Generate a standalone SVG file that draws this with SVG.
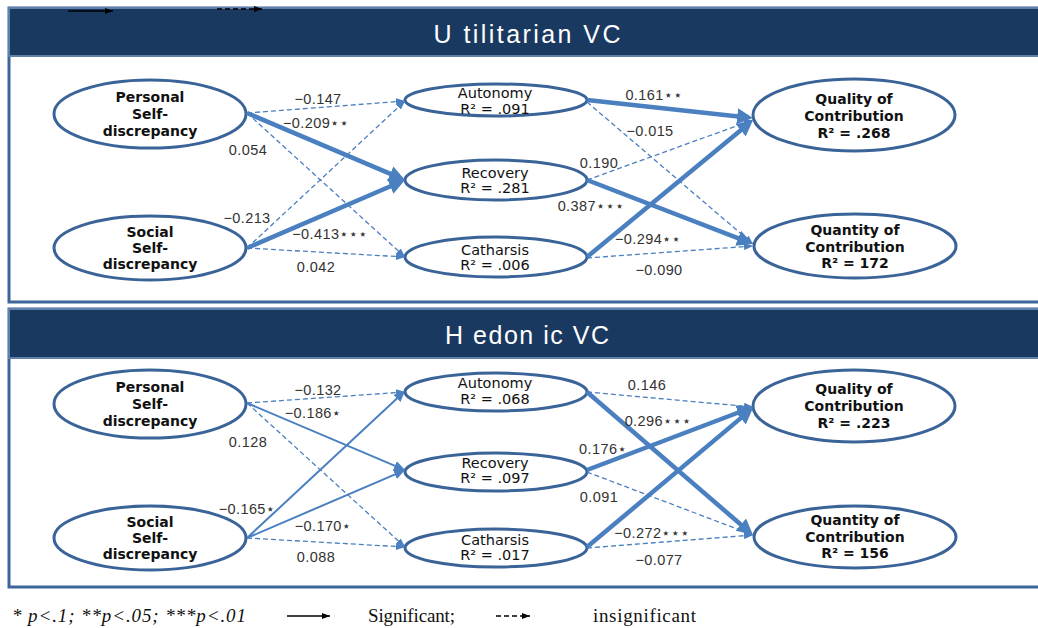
<svg xmlns="http://www.w3.org/2000/svg" width="1038" height="628" viewBox="0 0 1038 628">
<defs>
<style>
.panel{fill:#fff;stroke:#3d6599;stroke-width:3}
.hdr{fill:#1a3960;stroke:#5f80ab;stroke-width:2}
.title{font-family:"Liberation Sans",Arial,sans-serif;font-size:25px;fill:#fff;text-anchor:middle}
.ell{fill:#fff;stroke:#3a6398;stroke-width:3}
.nb{font-family:"DejaVu Sans",sans-serif;font-weight:bold;font-size:14px;fill:#111;text-anchor:middle}
.nr{font-family:"DejaVu Sans",sans-serif;font-size:14.5px;fill:#111;text-anchor:middle}
.lb{font-family:"Liberation Sans","DejaVu Sans",sans-serif;font-size:14.5px;letter-spacing:0.4px;fill:#333;text-anchor:middle}
.thick{fill:none;stroke:#4a7fc0;stroke-width:4.5;marker-end:url(#big)}
.mid{fill:none;stroke:#4a7fc0;stroke-width:2;marker-end:url(#med)}
.dash{fill:none;stroke:#4a7fc0;stroke-width:1.3;stroke-dasharray:5 3;marker-end:url(#sm)}
.leg{font-family:"Liberation Serif","Times New Roman",serif;font-size:19px;fill:#111}
.kl{stroke:#000;stroke-width:1.3;fill:none;marker-end:url(#blk)}
</style>
<marker id="big" markerUnits="userSpaceOnUse" markerWidth="16" markerHeight="16" refX="6" refY="8" orient="auto"><path d="M0,0 L16,8 L0,16 z" fill="#4a7fc0"/></marker>
<marker id="med" markerUnits="userSpaceOnUse" markerWidth="11" markerHeight="10" refX="4" refY="5" orient="auto"><path d="M0,0 L11,5 L0,10 z" fill="#4a7fc0"/></marker>
<marker id="sm" markerUnits="userSpaceOnUse" markerWidth="9" markerHeight="7" refX="9" refY="3.5" orient="auto"><path d="M0,0 L9,3.5 L0,7 z" fill="#4a7fc0"/></marker>
<marker id="blk" markerUnits="userSpaceOnUse" markerWidth="8" markerHeight="6" refX="8" refY="3" orient="auto"><path d="M0,0 L8,3 L0,6 z" fill="#000"/></marker>
</defs>

<g id="panel-utilitarian">
<rect class="panel" x="9" y="8" width="1040" height="294"/>
<rect class="hdr" x="9" y="8" width="1040" height="48"/>
<text class="title" x="527" y="43" textLength="187" lengthAdjust="spacing">U tilitarian VC</text>
</g>
<g id="panel-hedonic">
<rect class="panel" x="9" y="309" width="1040" height="278"/>
<rect class="hdr" x="9" y="309" width="1040" height="49"/>
<text class="title" x="527" y="344" textLength="164" lengthAdjust="spacing">H edon ic VC</text>
</g>

<g id="top-legend-arrows">
<line class="kl" x1="68" y1="11" x2="113" y2="11"/>
<line class="kl" x1="217" y1="9" x2="262" y2="9" stroke-dasharray="5 3"/>
</g>

<!-- Utilitarian nodes -->
<g id="u-personal"><ellipse class="ell" cx="150" cy="114" rx="96" ry="34"/>
<text class="nb" x="150" y="102">Personal</text><text class="nb" x="150" y="119">Self-</text><text class="nb" x="150" y="136">discrepancy</text></g>
<g id="u-social"><ellipse class="ell" cx="150" cy="248" rx="96" ry="32"/>
<text class="nb" x="150" y="237">Social</text><text class="nb" x="150" y="253">Self-</text><text class="nb" x="150" y="269">discrepancy</text></g>
<g id="u-autonomy"><ellipse class="ell" cx="496" cy="100" rx="91" ry="16"/>
<text class="nr" x="495" y="98">Autonomy</text><text class="nr" x="495" y="114">R² = .091</text></g>
<g id="u-recovery"><ellipse class="ell" cx="496" cy="180" rx="91" ry="20"/>
<text class="nr" x="495" y="178">Recovery</text><text class="nr" x="495" y="193">R² = .281</text></g>
<g id="u-catharsis"><ellipse class="ell" cx="496" cy="257" rx="91" ry="20"/>
<text class="nr" x="495" y="255">Catharsis</text><text class="nr" x="495" y="270">R² = .006</text></g>
<g id="u-quality"><ellipse class="ell" cx="854" cy="115" rx="101" ry="36"/>
<text class="nb" x="854" y="104">Quality of</text><text class="nb" x="854" y="121">Contribution</text><text class="nb" x="854" y="138">R² = .268</text></g>
<g id="u-quantity"><ellipse class="ell" cx="855" cy="246" rx="101" ry="32"/>
<text class="nb" x="855" y="235">Quantity of</text><text class="nb" x="855" y="252">Contribution</text><text class="nb" x="855" y="268">R² = 172</text></g>

<!-- Hedonic nodes -->
<g id="h-personal"><ellipse class="ell" cx="150" cy="404" rx="96" ry="34"/>
<text class="nb" x="150" y="392">Personal</text><text class="nb" x="150" y="409">Self-</text><text class="nb" x="150" y="426">discrepancy</text></g>
<g id="h-social"><ellipse class="ell" cx="150" cy="538" rx="96" ry="32"/>
<text class="nb" x="150" y="527">Social</text><text class="nb" x="150" y="543">Self-</text><text class="nb" x="150" y="559">discrepancy</text></g>
<g id="h-autonomy"><ellipse class="ell" cx="496" cy="392" rx="91" ry="19"/>
<text class="nr" x="495" y="388">Autonomy</text><text class="nr" x="495" y="404">R² = .068</text></g>
<g id="h-recovery"><ellipse class="ell" cx="496" cy="472" rx="91" ry="19"/>
<text class="nr" x="495" y="468">Recovery</text><text class="nr" x="495" y="483">R² = .097</text></g>
<g id="h-catharsis"><ellipse class="ell" cx="496" cy="548" rx="91" ry="19"/>
<text class="nr" x="495" y="545">Catharsis</text><text class="nr" x="495" y="560">R² = .017</text></g>
<g id="h-quality"><ellipse class="ell" cx="854" cy="406" rx="101" ry="36"/>
<text class="nb" x="854" y="394">Quality of</text><text class="nb" x="854" y="411">Contribution</text><text class="nb" x="854" y="428">R² = .223</text></g>
<g id="h-quantity"><ellipse class="ell" cx="855" cy="537" rx="101" ry="31"/>
<text class="nb" x="855" y="525">Quantity of</text><text class="nb" x="855" y="542">Contribution</text><text class="nb" x="855" y="558">R² = 156</text></g>

<g id="connectors">
<line class="dash" x1="247" y1="113" x2="405" y2="101"/>
<line class="thick" x1="247" y1="113" x2="395.8" y2="176.1"/>
<line class="dash" x1="247" y1="113" x2="405" y2="257"/>
<line class="dash" x1="247" y1="248" x2="405" y2="101"/>
<line class="thick" x1="247" y1="248" x2="395.8" y2="184"/>
<line class="dash" x1="247" y1="248" x2="405" y2="257"/>
<line class="thick" x1="587" y1="100" x2="743.1" y2="116.9"/>
<line class="dash" x1="587" y1="102" x2="753" y2="244"/>
<line class="dash" x1="587" y1="180" x2="753" y2="120"/>
<line class="thick" x1="587" y1="180" x2="743.7" y2="240.4"/>
<line class="thick" x1="587" y1="257" x2="745.3" y2="126.4"/>
<line class="dash" x1="587" y1="258" x2="753" y2="246"/>

<line class="dash" x1="247" y1="403" x2="405" y2="392"/>
<line class="mid" x1="247" y1="403" x2="398.6" y2="467.3"/>
<line class="dash" x1="247" y1="403" x2="405" y2="547"/>
<line class="mid" x1="247" y1="538" x2="399.9" y2="395.8"/>
<line class="mid" x1="247" y1="538" x2="398.6" y2="472.8"/>
<line class="dash" x1="247" y1="538" x2="405" y2="547"/>
<line class="dash" x1="587" y1="392" x2="753" y2="407"/>
<line class="thick" x1="587" y1="392" x2="745.4" y2="528.5"/>
<line class="thick" x1="587" y1="470" x2="743.7" y2="410.5"/>
<line class="dash" x1="587" y1="472" x2="753" y2="535"/>
<line class="thick" x1="587" y1="547" x2="745.3" y2="414.4"/>
<line class="dash" x1="587" y1="548" x2="753" y2="535"/>
</g>

<g id="edge-labels">
<text class="lb" x="318" y="104">−0.147</text>
<text class="lb" x="316" y="128">−0.209⋆⋆</text>
<text class="lb" x="248" y="155">0.054</text>
<text class="lb" x="247" y="223">−0.213</text>
<text class="lb" x="330" y="239">−0.413⋆⋆⋆</text>
<text class="lb" x="316" y="272">0.042</text>
<text class="lb" x="654" y="100">0.161⋆⋆</text>
<text class="lb" x="650" y="136">−0.015</text>
<text class="lb" x="599" y="168">0.190</text>
<text class="lb" x="591" y="211">0.387⋆⋆⋆</text>
<text class="lb" x="648" y="244">−0.294⋆⋆</text>
<text class="lb" x="659" y="275">−0.090</text>

<text class="lb" x="318" y="395">−0.132</text>
<text class="lb" x="313" y="418">−0.186⋆</text>
<text class="lb" x="248" y="447">0.128</text>
<text class="lb" x="247" y="514">−0.165⋆</text>
<text class="lb" x="323" y="531">−0.170⋆</text>
<text class="lb" x="316" y="562">0.088</text>
<text class="lb" x="647" y="390">0.146</text>
<text class="lb" x="658" y="426">0.296⋆⋆⋆</text>
<text class="lb" x="603" y="454">0.176⋆</text>
<text class="lb" x="599" y="502">0.091</text>
<text class="lb" x="652" y="538">−0.272⋆⋆⋆</text>
<text class="lb" x="659" y="565">−0.077</text>
</g>

<g id="legend">
<text class="leg" x="12" y="622" font-style="italic" textLength="234" lengthAdjust="spacing">* p&lt;.1; **p&lt;.05; ***p&lt;.01</text>
<line class="kl" x1="287" y1="616" x2="330" y2="616"/>
<text class="leg" x="368" y="622" textLength="87" lengthAdjust="spacing">Significant;</text>
<line class="kl" x1="496" y1="616" x2="530" y2="616" stroke-dasharray="5 3"/>
<text class="leg" x="593" y="622" textLength="103" lengthAdjust="spacing">insignificant</text>
</g>
</svg>
